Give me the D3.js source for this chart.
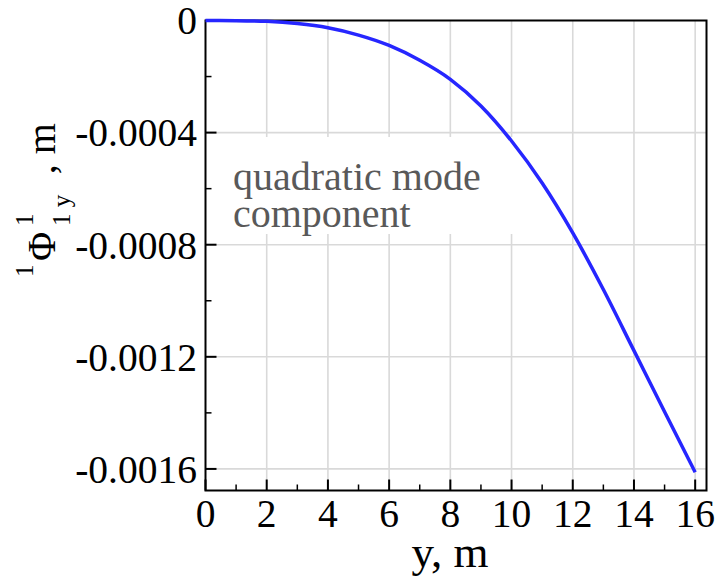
<!DOCTYPE html>
<html>
<head>
<meta charset="utf-8">
<script src="https://cdn.jsdelivr.net/npm/d3@7"></script>
<style>
  html, body { margin: 0; padding: 0; background: #fff; }
  svg { display: block; }
  text { font-family: "Liberation Serif", "Times New Roman", serif; }
</style>
</head>
<body>
<svg id="chart" width="720" height="578"></svg>
<script>
// ---- data ----
const yPos = [0, 1, 2, 3, 4, 5, 6, 7, 8, 9, 10, 11, 12, 13, 14, 15, 16];
const phiValues = [0, -0.0000005, -0.000003, -0.000011, -0.000026, -0.000052, -0.000089,
  -0.000142, -0.000210, -0.000305, -0.000430, -0.000580, -0.000758, -0.000960, -0.001178, -0.001396, -0.001612];
const xTicks = [0, 2, 4, 6, 8, 10, 12, 14, 16];
const xMinorTicks = [1, 3, 5, 7, 9, 11, 13, 15];
const yTicks = [0, -0.0004, -0.0008, -0.0012, -0.0016];
const yTickLabels = ["0", "-0.0004", "-0.0008", "-0.0012", "-0.0016"];
const yMinorTicks = [-0.0002, -0.0006, -0.0010, -0.0014];
const annotationLines = ["quadratic mode", "component"];

const svg = d3.select("#chart");
const L = 205.5, R = 706.5, T = 20.5, B = 490.5;

const x = d3.scaleLinear().domain([0, 16.37]).range([L, R]);
const y = d3.scaleLinear().domain([-0.001677, 0]).range([B, T]);

// grid
const grid = svg.append("g");
grid.selectAll("line.vg").data(xTicks.filter(d => d > 0)).join("line")
  .attr("x1", d => x(d)).attr("x2", d => x(d)).attr("y1", T).attr("y2", B)
  .attr("stroke", "#d9d9d9").attr("stroke-width", 1.6);
grid.selectAll("line.hg").data(yTicks.filter(d => d < 0)).join("line")
  .attr("x1", L).attr("x2", R).attr("y1", d => y(d)).attr("y2", d => y(d))
  .attr("stroke", "#d9d9d9").attr("stroke-width", 1.6);

// annotation box (white, hides grid)
svg.append("rect").attr("x", L + 1).attr("y", 137).attr("width", 312).attr("height", 97).attr("fill", "#fff");
const ann = svg.append("text").attr("fill", "#595959").attr("font-size", 40);
ann.selectAll("tspan").data(annotationLines).join("tspan")
  .attr("x", 233).attr("y", (d, i) => 190 + i * 37).text(d => d);

// axes ticks (inward)
const ax = svg.append("g").attr("stroke", "#000");
ax.selectAll("line.xt").data(xTicks).join("line")
  .attr("x1", d => x(d)).attr("x2", d => x(d)).attr("y1", B).attr("y2", B - 11).attr("stroke-width", 2);
ax.selectAll("line.xm").data(xMinorTicks).join("line")
  .attr("x1", d => x(d)).attr("x2", d => x(d)).attr("y1", B).attr("y2", B - 6).attr("stroke-width", 1.5);
ax.selectAll("line.yt").data(yTicks).join("line")
  .attr("y1", d => y(d)).attr("y2", d => y(d)).attr("x1", L).attr("x2", L + 11).attr("stroke-width", 2);
ax.selectAll("line.ym").data(yMinorTicks).join("line")
  .attr("y1", d => y(d)).attr("y2", d => y(d)).attr("x1", L).attr("x2", L + 6).attr("stroke-width", 1.5);

// frame
svg.append("rect").attr("x", L).attr("y", T).attr("width", R - L).attr("height", B - T)
  .attr("fill", "none").attr("stroke", "#000").attr("stroke-width", 2);

// curve (drawn over the frame, as in the reference)
const line = d3.line().x((d, i) => x(yPos[i])).y(d => y(d)).curve(d3.curveMonotoneX);
svg.append("path").datum(phiValues).attr("d", line)
  .attr("fill", "none").attr("stroke", "#2626ff").attr("stroke-width", 3.5);

// tick labels
svg.append("g").selectAll("text").data(xTicks).join("text")
  .attr("x", d => x(d)).attr("y", 527).attr("text-anchor", "middle").attr("font-size", 39.5).text(d => d);
svg.append("g").selectAll("text").data(yTicks).join("text")
  .attr("x", 197).attr("y", d => y(d)).attr("dy", "0.35em").attr("text-anchor", "end")
  .attr("font-size", 39.5).text((d, i) => yTickLabels[i]);

// x axis title
svg.append("text").attr("x", 450).attr("y", 567).attr("text-anchor", "middle").attr("font-size", 45).text("y, m");

// y axis title: ¹Φ¹₁y , m
const yl = svg.append("g").attr("transform", "translate(55,277) rotate(-90)");
yl.append("text").attr("x", 0).attr("y", -22).attr("font-size", 25).text("1");
yl.append("text").attr("x", 16).attr("y", 0).attr("font-size", 40).text("Φ");
yl.append("text").attr("x", 51).attr("y", -22).attr("font-size", 25).text("1");
yl.append("text").attr("x", 51).attr("y", 15).attr("font-size", 25).text("1 y");
yl.append("text").attr("x", 154).attr("y", 0).attr("text-anchor", "end").attr("font-size", 40).text(", m");
</script>
</body>
</html>
